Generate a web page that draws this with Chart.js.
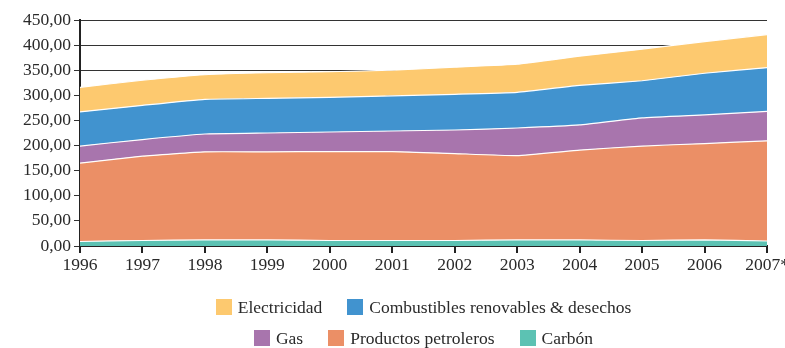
<!DOCTYPE html>
<html>
<head>
<meta charset="utf-8">
<script src="https://cdn.jsdelivr.net/npm/chart.js@4/dist/chart.umd.min.js"></script>
<style>
  html, body { margin: 0; padding: 0; background: #ffffff; }
  #wrap { width: 785px; height: 348px; position: relative; }
</style>
</head>
<body>
<div id="wrap"><canvas id="c"></canvas></div>
<script>
// Consumo final por fuente, 1996-2007*
const years = ['1996', '1997', '1998', '1999', '2000', '2001', '2002', '2003', '2004', '2005', '2006', '2007*'];

const carbon       = [9, 11, 12, 12, 11, 11, 11, 12, 12, 11, 12, 10];
const petroleo     = [156, 168, 175.5, 175.5, 177, 177, 173, 168, 179, 188, 192, 199.5];
const gas          = [34, 33, 35.5, 37.5, 39, 41, 47, 55, 50, 56, 57, 58.5];
const combustibles = [68, 68, 69, 69, 69, 70, 71, 71, 79, 74, 83, 87];
const electricidad = [49, 50, 49, 51, 51, 51, 54, 56, 58, 63, 63, 66];

const yMin = 0, yMax = 450, yStep = 50;
const fmtTick = v => v.toFixed(2).replace('.', ',');

const FONT = "'Liberation Serif', serif";
const TEXT = '#2a2a2a';

Chart.defaults.font.family = FONT;

function area(label, data, color, fill) {
  return {
    label, data,
    backgroundColor: color,
    borderColor: '#ffffff',
    borderWidth: 1.2,
    pointRadius: 0,
    pointHoverRadius: 0,
    tension: 0.12,
    fill
  };
}

const datasets = [
  area('Carbón', carbon, '#5cc2b3', 'origin'),
  area('Productos petroleros', petroleo, '#eb8f66', '-1'),
  area('Gas', gas, '#a875ad', '-1'),
  area('Combustibles renovables & desechos', combustibles, '#4193cf', '-1'),
  area('Electricidad', electricidad, '#fdc96f', '-1')
];

// legend drawn in two centred rows beneath the axis
const legendRows = [[4, 3], [2, 1, 0]];
const twoRowLegend = {
  id: 'twoRowLegend',
  afterDraw(chart) {
    const ctx = chart.ctx;
    const ca = chart.chartArea;
    const cx = (ca.left + ca.right) / 2;
    const box = 16, gap = 6, spacing = 25;
    const rowY = [307, 338];
    ctx.save();
    ctx.font = '17.5px ' + FONT;
    ctx.textBaseline = 'middle';
    ctx.fillStyle = TEXT;
    legendRows.forEach((row, r) => {
      const widths = row.map(i => box + gap + ctx.measureText(chart.data.datasets[i].label).width);
      const total = widths.reduce((a, b) => a + b, 0) + spacing * (row.length - 1);
      let x = cx - total / 2;
      row.forEach((i, k) => {
        const ds = chart.data.datasets[i];
        ctx.fillStyle = ds.backgroundColor;
        ctx.fillRect(Math.round(x), rowY[r] - box / 2, box, box);
        ctx.fillStyle = TEXT;
        ctx.fillText(ds.label, x + box + gap, rowY[r] + 1);
        x += widths[k] + spacing;
      });
    });
    ctx.restore();
  }
};

const cv = document.getElementById('c');
cv.width = 785; cv.height = 348;
cv.style.width = '785px'; cv.style.height = '348px';

const chart = new Chart(cv, {
  type: 'line',
  data: { labels: years, datasets },
  options: {
    responsive: false,
    animation: false,
    layout: { padding: { left: 0, top: 20, right: 18, bottom: 70 } },
    plugins: {
      legend: { display: false },
      tooltip: { enabled: false }
    },
    scales: {
      x: {
        offset: false,
        grid: { drawOnChartArea: false, drawTicks: true, tickLength: 7, color: '#222', lineWidth: 2 },
        border: { color: '#222', width: 2 },
        ticks: { color: TEXT, font: { family: FONT, size: 17.5 }, padding: 2, maxRotation: 0, autoSkip: false },
        afterFit(s) { s.height = 32; s.paddingLeft = 0; s.paddingRight = 0; }
      },
      y: {
        stacked: true,
        min: yMin, max: yMax,
        grid: { color: '#333', lineWidth: 1, tickLength: 6, drawTicks: true },
        border: { color: '#222', width: 2 },
        ticks: {
          stepSize: yStep,
          color: TEXT,
          font: { family: FONT, size: 17.5 },
          padding: 3,
          callback: v => fmtTick(v)
        },
        afterFit(s) { s.width = 80; }
      }
    }
  },
  plugins: [twoRowLegend]
});

if (document.fonts && document.fonts.ready) {
  document.fonts.ready.then(() => chart.update('none'));
}
</script>
</body>
</html>
